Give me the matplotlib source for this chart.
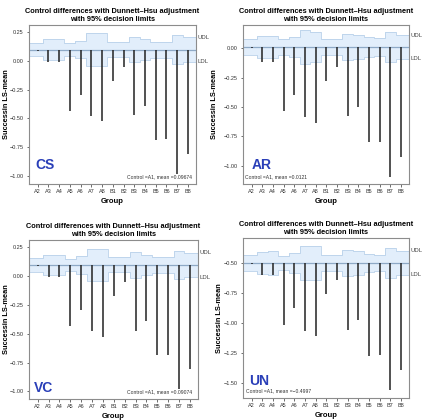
import numpy as np
import matplotlib
matplotlib.use("Agg")
import matplotlib.pyplot as plt
from matplotlib.transforms import blended_transform_factory

plt.rcParams['font.family'] = ['Liberation Sans', 'DejaVu Sans']

groups = ["A2", "A3", "A4", "A5", "A6", "A7", "A8", "B1", "B2", "B3", "B4", "B5", "B6", "B7", "B8"]

# Control (A1) means
control_cs = 0.09674
control_ar = 0.0121
control_vc = 0.09674
control_un = -0.4997

# LS-means of the compared groups
means_cs = [0.085, -0.012, -0.012, -0.433, -0.295, -0.478, -0.527, -0.173, -0.055,
            -0.472, -0.392, -0.685, -0.683, -0.98, -0.81]
means_ar = [0.0, -0.114, -0.114, -0.535, -0.40, -0.583, -0.634, -0.276, -0.157,
            -0.577, -0.497, -0.796, -0.796, -1.10, -0.929]
means_vc = [0.085, -0.012, -0.012, -0.433, -0.295, -0.478, -0.527, -0.173, -0.055,
            -0.472, -0.392, -0.685, -0.683, -0.98, -0.81]
means_un = [-0.51, -0.603, -0.603, -1.015, -0.88, -1.068, -1.113, -0.762, -0.645,
            -1.063, -0.979, -1.277, -1.269, -1.564, -1.397]

# half widths of 95% decision limits
hw_cs = [0.06, 0.09, 0.09, 0.055, 0.075, 0.14, 0.14, 0.065, 0.065, 0.11, 0.09, 0.07, 0.07, 0.125, 0.105]
hw_ar = [0.065, 0.094, 0.094, 0.065, 0.085, 0.145, 0.128, 0.065, 0.065, 0.11, 0.10, 0.085, 0.08, 0.13, 0.10]
hw_vc = [0.06, 0.09, 0.09, 0.055, 0.075, 0.14, 0.14, 0.065, 0.065, 0.11, 0.09, 0.07, 0.07, 0.125, 0.105]
hw_un = [0.067, 0.095, 0.10, 0.06, 0.08, 0.142, 0.142, 0.066, 0.066, 0.11, 0.097, 0.078, 0.066, 0.128, 0.10]

yticks_cs = [0.25, 0.0, -0.25, -0.5, -0.75, -1.0]
yticks_ar = [0.0, -0.25, -0.5, -0.75, -1.0]
yticks_un = [-0.5, -0.75, -1.0, -1.25, -1.5]

W, H = 423, 420
fig = plt.figure(figsize=(W / 100, H / 100), dpi=100)

panels = [
    dict(name="CS", control=control_cs, means=means_cs, hw=hw_cs, yticks=yticks_cs,
         ylim=(-1.07, 0.31), box=(29, 25, 196, 184), lab=(0.036, 0.12), note_right=True,
         note="Control =A1, mean =0.09674", note_pos=(0.975, 0.03), ylx=-0.114),
    dict(name="AR", control=control_ar, means=means_ar, hw=hw_ar, yticks=yticks_ar,
         ylim=(-1.156, 0.199), box=(243, 25, 409, 184), lab=(0.05, 0.12), note_right=False,
         note="Control =A1, mean =0.0121", note_pos=(0.012, 0.03), ylx=-0.15),
    dict(name="VC", control=control_vc, means=means_vc, hw=hw_vc, yticks=yticks_cs,
         ylim=(-1.066, 0.313), box=(29, 240, 198, 399), lab=(0.03, 0.07), note_right=True,
         note="Control =A1, mean =0.09074", note_pos=(0.965, 0.03), ylx=-0.114),
    dict(name="UN", control=control_un, means=means_un, hw=hw_un, yticks=yticks_un,
         ylim=(-1.629, -0.291), box=(243, 238, 409, 398), lab=(0.034, 0.104), note_right=False,
         note="Control =A1, mean =\u22120.4997", note_pos=(0.018, 0.028), ylx=-0.122),
]

x = np.arange(len(groups))
xlim = (-0.8, len(groups) - 0.25)

for p in panels:
    l, t, r, b = p["box"]
    ax = fig.add_axes([l / W, 1 - b / H, (r - l) / W, (b - t) / H])
    ax.set_xlim(*xlim)
    ax.set_ylim(*p["ylim"])
    c = p["control"]
    hw = np.array(p["hw"])
    edges = np.concatenate([[xlim[0]], x[:-1] + 0.5, [xlim[1]]])
    upper = np.concatenate([c + hw, [c + hw[-1]]])
    lower = np.concatenate([c - hw, [c - hw[-1]]])
    ax.fill_between(edges, lower, upper, step="post", facecolor="#e2eefb",
                    edgecolor="none", zorder=1)
    ax.step(edges, upper, where="post", color="#b9d1ea", lw=0.6, zorder=1.5)
    ax.step(edges, lower, where="post", color="#b9d1ea", lw=0.6, zorder=1.5)
    ax.axhline(c, color="#8ea9c6", lw=0.9, zorder=2)
    ax.vlines(x, c, p["means"], color="#222222", lw=1.1, zorder=3)

    ax.set_xticks(x)
    ax.set_xticklabels(groups)
    ax.set_yticks(p["yticks"])
    ax.set_yticklabels([f"{v:.2f}".replace("-", "\u2212") for v in p["yticks"]])
    ax.tick_params(labelsize=4.0, length=1.8, width=0.5, pad=2.0, colors="#333333")
    for s in ax.spines.values():
        s.set_color("#8c8c8c")
        s.set_linewidth(0.8)

    ax.set_title("Control differences with Dunnett\u2013Hsu adjustment\nwith 95% decision limits",
                 fontsize=5.3, fontweight="bold", pad=3.0, linespacing=1.15)
    ax.set_xlabel("Group", fontsize=5.5, fontweight="bold", labelpad=3)
    ax.set_ylabel("Successin LS-mean", fontsize=5.3, fontweight="bold")
    ax.yaxis.set_label_coords(p["ylx"], 0.5)

    trans = blended_transform_factory(ax.transAxes, ax.transData)
    ax.text(1.008, c + hw[-1], "UDL", transform=trans, fontsize=4.3, va="center",
            ha="left", color="#444444")
    ax.text(1.008, c - hw[-1], "LDL", transform=trans, fontsize=4.3, va="center",
            ha="left", color="#444444")

    ax.text(p["lab"][0], p["lab"][1], p["name"], transform=ax.transAxes, fontsize=10,
            fontweight="bold", color="#2a3fb8", va="center", ha="left")
    ax.text(p["note_pos"][0], p["note_pos"][1], p["note"], transform=ax.transAxes,
            fontsize=3.6, color="#333333", va="bottom",
            ha="right" if p["note_right"] else "left")

fig.savefig("out.png", dpi=100)
